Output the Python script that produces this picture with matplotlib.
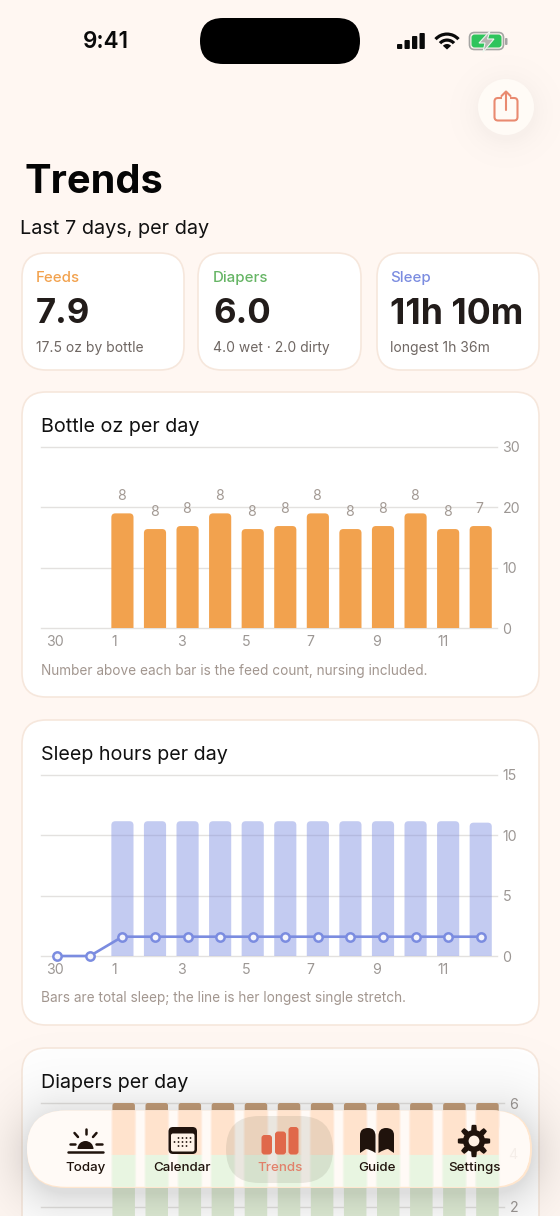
import numpy as np
import matplotlib
matplotlib.use('Agg')
import matplotlib.pyplot as plt
from matplotlib.patches import FancyBboxPatch, PathPatch, Wedge, Circle, Polygon, Rectangle
from matplotlib.path import Path
from matplotlib.transforms import ScaledTranslation

plt.rcParams['font.family'] = ['Inter', 'DejaVu Sans']

# ---------- data ----------
days_idx = list(range(14))
tick_idx = [0, 2, 4, 6, 8, 10, 12]
tick_labels = ['30', '1', '3', '5', '7', '9', '11']
bottle_oz = [0, 0, 19, 16.4, 16.9, 19, 16.4, 16.9, 19, 16.4, 16.9, 19, 16.4, 16.9]
feed_counts = [None, None, 8, 8, 8, 8, 8, 8, 8, 8, 8, 8, 8, 7]
sleep_total = [0, 0, 11.17, 11.17, 11.17, 11.17, 11.17, 11.17, 11.17, 11.17, 11.17, 11.17, 11.17, 11.05]
sleep_longest = [0, 0, 1.6, 1.6, 1.6, 1.6, 1.6, 1.6, 1.6, 1.6, 1.6, 1.6, 1.6, 1.6]
wet = [0, 0, 4, 4, 4, 4, 4, 4, 4, 4, 4, 4, 4, 4]
dirty = [0, 0, 2, 2, 2, 2, 2, 2, 2, 2, 2, 2, 2, 2]
oz_ticks = [0, 10, 20, 30]
sleep_ticks = [0, 5, 10, 15]
diaper_ticks = [2, 4, 6]

W, H = 560, 1216
BG = '#FFF7F2'
EDGE = '#F6E7DC'
GREY = '#9C9794'
NOTE = '#A2968F'
ORANGE = '#F2A24E'
BLUE = '#7B8CE0'
DARK = '#20130C'

fig = plt.figure(figsize=(W / 100, H / 100), dpi=100, facecolor=BG)


def px_axes(z):
    a = fig.add_axes([0, 0, 1, 1], zorder=z)
    a.set_xlim(0, W)
    a.set_ylim(H, 0)
    a.axis('off')
    a.patch.set_alpha(0)
    return a


def rrect(a, x0, y0, x1, y1, r, **kw):
    p = FancyBboxPatch((x0, y0), x1 - x0, y1 - y0,
                       boxstyle=f'round,pad=0,rounding_size={r}', **kw)
    a.add_patch(p)
    return p


def bar_path(x, y0, y1, w, rx, ry):
    l, rr = x - w / 2, x + w / 2
    verts = [(l, y0), (l, y1 - ry), (l, y1), (l + rx, y1), (rr - rx, y1), (rr, y1), (rr, y1 - ry), (rr, y0), (l, y0)]
    codes = [Path.MOVETO, Path.LINETO, Path.CURVE3, Path.CURVE3, Path.LINETO, Path.CURVE3, Path.CURVE3, Path.LINETO, Path.CLOSEPOLY]
    return Path(verts, codes)


def chart_axes(x0, x1, ytop, ybot, ymax, ticks, z=1, xlabels=True):
    a = fig.add_axes([x0 / W, 1 - ybot / H, (x1 - x0) / W, (ybot - ytop) / H], zorder=z)
    a.patch.set_alpha(0)
    a.set_xlim(-0.5, 13.5)
    a.set_ylim(0, ymax)
    for s in a.spines.values():
        s.set_visible(False)
    a.yaxis.tick_right()
    a.set_yticks(ticks)
    a.tick_params(axis='y', length=0, pad=4.0, labelsize=10.2, labelcolor=GREY)
    a.grid(axis='y', color='#E3E1DF', lw=1.0, zorder=0)
    for g in a.get_ygridlines():
        g.set_clip_on(False)
    a.set_axisbelow(True)
    if xlabels:
        a.set_xticks(tick_idx)
        a.set_xticklabels(tick_labels)
        a.tick_params(axis='x', length=0, pad=5.0, labelsize=10.2, labelcolor=GREY)
        off = ScaledTranslation(-11 / 100, 0, fig.dpi_scale_trans)
        for t in a.get_xticklabels():
            t.set_ha('left')
            t.set_transform(t.get_transform() + off)
    else:
        a.set_xticks([])
    return a


def add_bars(a, xs, bottoms, tops, width, rpx, color, alpha=None, clip=None, z=2):
    box = a.get_position()
    ux = (box.width * W) / 14
    uy = (box.height * H) / (a.get_ylim()[1] - a.get_ylim()[0])
    for x, b, t in zip(xs, bottoms, tops):
        if t <= b:
            continue
        p = PathPatch(bar_path(x, b, t, width, rpx / ux, rpx / uy), facecolor=color, edgecolor='none', alpha=alpha, zorder=z)
        a.add_patch(p)
        if clip is not None:
            p.set_clip_path(clip)


# ---------- base layer ----------
base = px_axes(0)
for x0, x1 in [(22, 184), (198, 361), (377, 539)]:
    rrect(base, x0, 253, x1, 370, 24, fc='white', ec=EDGE, lw=1.2)
for y0, y1 in [(392, 697), (720, 1025), (1048, 1290)]:
    rrect(base, 22, y0, 539, y1, 24, fc='white', ec=EDGE, lw=1.2)

base.text(105.5, 42, '9:41', fontsize=16.2, weight='semibold', ha='center', va='center', color='#0A0A0A')
rrect(base, 200, 18, 360, 64, 23, fc='black', ec='none')
base.text(25, 193, 'Trends', fontsize=28.6, weight='bold', ha='left', va='baseline', color='#050505')
base.text(20, 229, 'Last 7 days, per day', fontsize=14.25, ha='left', va='center', color='#111111')

# signal
for x, t_ in zip([397, 404.5, 412, 419.5], [44, 40, 36, 33]):
    rrect(base, x, t_, x + 5.3, 49, 1, fc='#0A0A0A', ec='none')
# wifi
for r, lw in [(17, 3.2), (11, 3.2)]:
    base.add_patch(Wedge((447, 49.5), r, 222, 318, width=lw, fc='#0A0A0A', ec='none'))
base.add_patch(Wedge((447, 49.5), 5.5, 222, 318, fc='#0A0A0A', ec='none'))
# battery
rrect(base, 469.5, 32.5, 503.5, 49.5, 5, fc='none', ec='#A5A5A3', lw=1.2)
rrect(base, 471.5, 34.5, 501.5, 47.5, 3, fc='#2FC45C', ec='none')
rrect(base, 505, 38, 507.5, 45, 1, fc='#A5A5A3', ec='none')
base.add_patch(Polygon([(490, 31), (479, 43), (485, 43), (483, 52), (494, 39), (487.5, 39)], closed=True,
                       fc='#B4B4B0', ec='#EEF7EF', lw=0.8))

# share button shadow
yy, xx = np.mgrid[0:H, 0:W]
d = np.hypot(xx - 506, yy - 111) - 28
sh = np.zeros((H, W, 4))
sh[..., 3] = np.where(d > 0, 0.03 * np.exp(-d / 14), 0.03)
base.imshow(sh, extent=(0, W, H, 0), aspect='auto', zorder=3, interpolation='bilinear')
base.set_xlim(0, W)
base.set_ylim(H, 0)
base.add_patch(Circle((506, 107), 28, fc='#FFFBF6', ec='none', zorder=4))
rrect(base, 494.5, 98, 517.5, 120.5, 3.5, fc='none', ec='#E98A70', lw=1.5, zorder=5)
base.add_patch(Rectangle((502, 94), 8, 8, fc='#FFFBF6', ec='none', zorder=5.5))
base.plot([506, 506], [92, 110], color='#E98A70', lw=1.5, zorder=6, solid_capstyle='round')
base.plot([501.5, 506, 510.5], [96, 91.5, 96], color='#E98A70', lw=1.5, zorder=6, solid_capstyle='round')

# stat cards
cards = [(36, 'Feeds', ORANGE, '7.9', 25, '17.5 oz by bottle'),
         (213, 'Diapers', '#66B565', '6.0', 25, '4.0 wet · 2.0 dirty'),
         (390.5, 'Sleep', BLUE, '11h 10m', 25.6, 'longest 1h 36m')]
for x, a_, c_, b_, fs, s_ in cards:
    base.text(x, 278, a_, fontsize=10.8, weight='medium', color=c_, ha='left', va='center')
    base.text(x, 314, b_, fontsize=fs, weight='bold', color='#221C1A', ha='left', va='center')
    base.text(x, 348, s_, fontsize=10.0, color='#6F6763', ha='left', va='center')

# chart titles + notes
base.text(41, 426.5, 'Bottle oz per day', fontsize=14.2, color='#111111', va='center')
base.text(41, 671, 'Number above each bar is the feed count, nursing included.', fontsize=9.8, color=NOTE, va='center')
base.text(41, 754.5, 'Sleep hours per day', fontsize=14.2, color='#111111', va='center')
base.text(41, 998, 'Bars are total sleep; the line is her longest single stretch.', fontsize=9.8, color=NOTE, va='center')
base.text(41, 1082.5, 'Diapers per day', fontsize=14.2, color='#111111', va='center')

BW = 0.68
zero = [0] * 14

# ---------- chart 1 ----------
ax1 = chart_axes(41, 497, 447, 628, 30, oz_ticks)
add_bars(ax1, days_idx, zero, bottle_oz, BW, 4, ORANGE)
for x, v, c in zip(days_idx, bottle_oz, feed_counts):
    if c is not None:
        ax1.annotate(str(c), (x - 0.03, v), xytext=(0, 12.4), textcoords='offset points',
                     ha='center', va='center', fontsize=10.2, color='#A39A94')

# ---------- chart 2 ----------
ax2 = chart_axes(41, 497, 775, 956, 15, sleep_ticks)
add_bars(ax2, days_idx, zero, sleep_total, BW, 4, BLUE, alpha=0.45)
ax2.plot(days_idx, sleep_longest, color=BLUE, lw=1.9, marker='o', ms=6.0, mfc='#F4F5FC', mec=BLUE, mew=1.8,
         zorder=5, clip_on=False)

# ---------- chart 3 ----------
ax3 = chart_axes(41, 504, 1103, 1258.5, 6, diaper_ticks, xlabels=False)
tops = [w + d_ for w, d_ in zip(wet, dirty)]
add_bars(ax3, days_idx, zero, wet, BW, 0, '#E0EDD6')
add_bars(ax3, days_idx, wet, tops, BW, 2.5, '#C49E7A')

# ---------- tab bar ----------
over = px_axes(2)
PX0, PX1, PY0, PY1, PR = 27, 532, 1110.5, 1188, 38.5
cx, cy = (PX0 + PX1) / 2, (PY0 + PY1) / 2 + 5
qx = np.abs(xx - cx) - ((PX1 - PX0) / 2 - PR)
qy = np.abs(yy - cy) - ((PY1 - PY0) / 2 - PR)
sd = np.hypot(np.maximum(qx, 0), np.maximum(qy, 0)) + np.minimum(np.maximum(qx, qy), 0) - PR
sh2 = np.zeros((H, W, 4))
sh2[..., 3] = np.where(sd > 0, 0.13 * np.exp(-sd / 24), 0.13)
over.imshow(sh2, extent=(0, W, H, 0), aspect='auto', zorder=1, interpolation='bilinear')
over.set_xlim(0, W)
over.set_ylim(H, 0)
rrect(over, PX0, PY0, PX1, PY1, PR, fc='#FFE6CE', ec='none', zorder=2)
pill = rrect(over, PX0, PY0, PX1 - 2, PY1 - 1.2, PR, fc='#FFFAF6', ec='none', zorder=3)

glass = fig.add_axes(ax3.get_position().bounds, zorder=3)
glass.patch.set_alpha(0)
glass.set_xlim(-0.5, 13.5)
glass.set_ylim(0, 6)
glass.axis('off')
# frosted copy of the bars: soft edges from stacked widths
for dw, al in [(0.08, 0.35), (0.03, 0.55), (-0.03, 1.0)]:
    add_bars(glass, days_idx, zero, wet, BW + dw, 0, '#E8F5E1', alpha=al, clip=pill)
    add_bars(glass, days_idx, wet, tops, BW + dw, 0, '#FFE3CD', alpha=al, clip=pill)

top = px_axes(4)
top.text(513, 1155, '4', fontsize=10.2, color='#D8CEC6', ha='center', va='center', zorder=1)
blob = rrect(top, 499, 1118, 560, 1183, 14, fc='#FFFAF6', ec='none', alpha=0.75, zorder=1.5)
blob.set_clip_path(pill)
rrect(top, 226, 1116, 333, 1183, 33.5, fc='#60604A', ec='none', alpha=0.13, zorder=2)

labels = [(85, 'Today', DARK), (182, 'Calendar', DARK), (280, 'Trends', '#E2806A'), (377, 'Guide', DARK), (474, 'Settings', DARK)]
for x, s, c in labels:
    top.text(x, 1168, s, fontsize=9.6, weight='medium', color=c, ha='center', va='center', zorder=6)

# sun icon
top.add_patch(Wedge((85.5, 1149), 8, 180, 360, fc=DARK, ec='none', zorder=6))
top.plot([68, 103], [1151.5, 1151.5], color=DARK, lw=1.8, zorder=6, solid_capstyle='round')
for a_, b_ in [((85.5, 1128.5), (85.5, 1134)), ((74.5, 1133), (78, 1137)), ((96.5, 1133), (93, 1137)),
               ((69.5, 1144), (75, 1144)), ((96, 1144), (101.5, 1144))]:
    top.plot([a_[0], b_[0]], [a_[1], b_[1]], color=DARK, lw=1.8, zorder=6, solid_capstyle='round')

# calendar icon
rrect(top, 168.5, 1127, 197, 1154, 4.5, fc=DARK, ec='none', zorder=6)
rrect(top, 171, 1133.5, 194.5, 1151.5, 2, fc='#FFF3E8', ec='none', zorder=6.1)
for i, y in enumerate([1138, 1142, 1146]):
    for x in ([180, 184, 188] if i == 2 else [180, 184, 188, 192] if i == 0 else [176, 180, 184, 188, 192]):
        top.add_patch(Circle((x - 1.5, y), 0.9, fc=DARK, ec='none', zorder=6.2))

# trends icon
for x0, x1, y0 in [(261.5, 272, 1135), (275, 286, 1131.5), (288.5, 298.5, 1127)]:
    top.add_patch(FancyBboxPatch((x0, y0), x1 - x0, 1154.5 - y0, boxstyle='round,pad=0,rounding_size=3',
                                 fc='#E0684A', ec='none', zorder=6))

# book icon
for (x0, x1) in [(360, 375.5), (378.5, 394)]:
    if x0 == 360:
        v = [(x0, 1153), (x0, 1135), (x0, 1128), (x0 + 8, 1128), (x1, 1128), (x1, 1136), (x1, 1153), (x1 - 6, 1149), (x0 + 6, 1149), (x0, 1153)]
    else:
        v = [(x1, 1153), (x1, 1135), (x1, 1128), (x1 - 8, 1128), (x0, 1128), (x0, 1136), (x0, 1153), (x0 + 6, 1149), (x1 - 6, 1149), (x1, 1153)]
    c = [Path.MOVETO, Path.LINETO, Path.CURVE3, Path.CURVE3, Path.CURVE3, Path.CURVE3, Path.LINETO, Path.CURVE3, Path.CURVE3, Path.CLOSEPOLY]
    top.add_patch(PathPatch(Path(v, c), fc=DARK, ec='none', zorder=6))

# gear icon
th = np.linspace(0, 2 * np.pi, 400)
rad = 13.6 + 2.6 * np.clip(2.2 * np.cos(8 * th), -1, 1)
top.add_patch(Polygon(np.c_[474 + rad * np.cos(th), 1141 + rad * np.sin(th)], closed=True, fc=DARK, ec='none', zorder=6))
top.add_patch(Circle((474, 1141), 5.4, fc='#FFF0E4', ec='none', zorder=6.1))

fig.savefig('out.png', dpi=100, facecolor=BG)
